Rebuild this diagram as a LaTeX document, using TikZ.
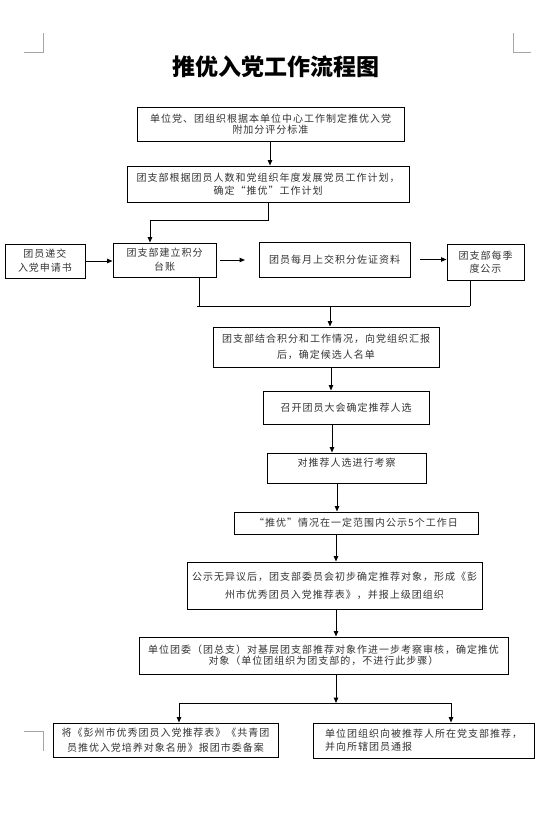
\documentclass[tikz,border=0pt]{standalone}
\usepackage{fontspec}
\newfontfamily\cjk[LetterSpace=10]{Noto Sans CJK SC}
\newfontfamily\cjktitle{Noto Sans CJK SC}
\usetikzlibrary{arrows.meta,calc}
\tikzset{
  box/.style={draw, line width=1pt, fill=white, text=black!80, align=center,
    inner sep=0pt, anchor=center, font=\cjk\fontsize{10}{12}\selectfont},
  sz/.style 2 args={minimum width=#1, minimum height=#2},
  lsk/.style={font=\cjk\fontsize{10}{#1}\selectfont},
  conn/.style={line width=1pt, draw=black},
  arr/.style={conn, -{Triangle[length=5.5pt,width=4.5pt]}},
  cmark/.style={draw=black!35, line width=0.7pt}
}
\begin{document}
\begin{tikzpicture}[x=1pt,y=-1pt]
\useasboundingbox (0,0) rectangle (542,814);
% corner marks
\draw[cmark] (24,52) -- (43,52) -- (43,33);
\draw[cmark] (513,33) -- (513,52) -- (531,52);
\draw[cmark] (24,731) -- (43,731) -- (43,751);
% title
\node[font=\cjktitle\bfseries\fontsize{23}{23}\selectfont, anchor=center] (title) at (276,67) {推优入党工作流程图};
% boxes
\node[box, sz={267pt}{34pt}, lsk=11.5] (b1) at (270.5,124) {单位党、团组织根据本单位中心工作制定推优入党\\附加分评分标准};
\node[box, sz={282pt}{36pt}, lsk=13] (b2) at (268,184) {团支部根据团员人数和党组织年度发展党员工作计划，\\确定“推优”工作计划};
\node[box, sz={80pt}{34pt}, lsk=14] (bA) at (45,261) {团员递交\\入党申请书};
\node[box, sz={103pt}{34pt}, lsk=14] (bB) at (164.5,260) {团支部建立积分\\台账};
\node[box, sz={151pt}{35pt}] (bC) at (334.5,259.5) {团员每月上交积分佐证资料};
\node[box, sz={77pt}{36pt}, lsk=13] (bD) at (485.5,262) {团支部每季\\度公示};
\node[box, sz={226pt}{40pt}, lsk=16] (bE) at (326,347) {团支部结合积分和工作情况，向党组织汇报\\后，确定候选人名单};
\node[box, sz={166pt}{33pt}] (bF) at (346,407.5) {召开团员大会确定推荐人选};
\node[box, sz={159pt}{30pt}, text depth=11pt] (bG) at (346.5,468) {对推荐人选进行考察};
\node[box, sz={244pt}{22pt}] (bH) at (356,523) {“推优”情况在一定范围内公示5个工作日};
\node[box, sz={295pt}{47pt}, lsk=18] (bI) at (334.5,585.5) {公示无异议后，团支部委员会初步确定推荐对象，形成《彭\\州市优秀团员入党推荐表》，并报上级团组织};
\node[box, sz={369pt}{37pt}, lsk=11] (bJ) at (323.5,655.5) {单位团委（团总支）对基层团支部推荐对象作进一步考察审核，确定推优\\对象（单位团组织为团支部的，不进行此步骤）};
\node[box, sz={225pt}{34pt}, lsk=15] (bK) at (165.5,740) {将《彭州市优秀团员入党推荐表》《共青团\\员推优入党培养对象名册》报团市委备案};
\node[box, sz={221pt}{35pt}, lsk=13, align=left] (bL) at (423.5,740.5) {单位团组织向被推荐人所在党支部推荐，\\并向所辖团员通报};
% junction / spine coordinates
\coordinate (j1) at (150,220);
\coordinate (j2) at (330,306);
\coordinate (j3) at (336,703);
\coordinate (jk) at (179,703);
\coordinate (jl) at (451,703);
\coordinate (cB) at (199,306);
\coordinate (cD) at (470,306);
\coordinate (aC) at (245,261);
\coordinate (x268) at (268,0);
\coordinate (x270) at (270,0);
\coordinate (x331) at (331,0);
\coordinate (x332) at (332,0);
\coordinate (x337) at (337,0);
\coordinate (x336) at (336,0);
% connectors
\draw[arr] (b1.south -| x270) -- (b2.north -| x270);
\draw[conn] (b2.south -| x268) -- (j1 -| x268) -- (j1);
\draw[arr] (j1) -- (j1 |- bB.north);
\draw[arr] (bA.east) -- (bB.west |- bA.east);
\draw[arr] ([xshift=3pt]bB.east) -- (aC |- bB.east);
\draw[arr] ([xshift=9pt]bC.east) -- (bD.west |- bC.east);
\draw[conn] (cB |- bB.south) -- (cB);
\draw[conn] (cD |- bD.south) -- (cD);
\draw[conn] ([xshift=-2pt]cB) -- (cD);
\draw[arr] (j2) -- (j2 |- bE.north);
\draw[arr] (bE.south -| x331) -- (bF.north -| x331);
\draw[arr] (bF.south -| x332) -- (bG.north -| x332);
\draw[arr] (bG.south -| x337) -- (bH.north -| x337);
\draw[arr] (bH.south -| x336) -- (bI.north -| x336);
\draw[arr] (bI.south -| x336) -- (bJ.north -| x336);
\draw[arr] (bJ.south -| j3) -- (j3);
\draw[conn] (jk) -- (jl);
\draw[arr] (jk) -- (jk |- bK.north);
\draw[arr] (jl) -- (jl |- bL.north);
\end{tikzpicture}
\end{document}
